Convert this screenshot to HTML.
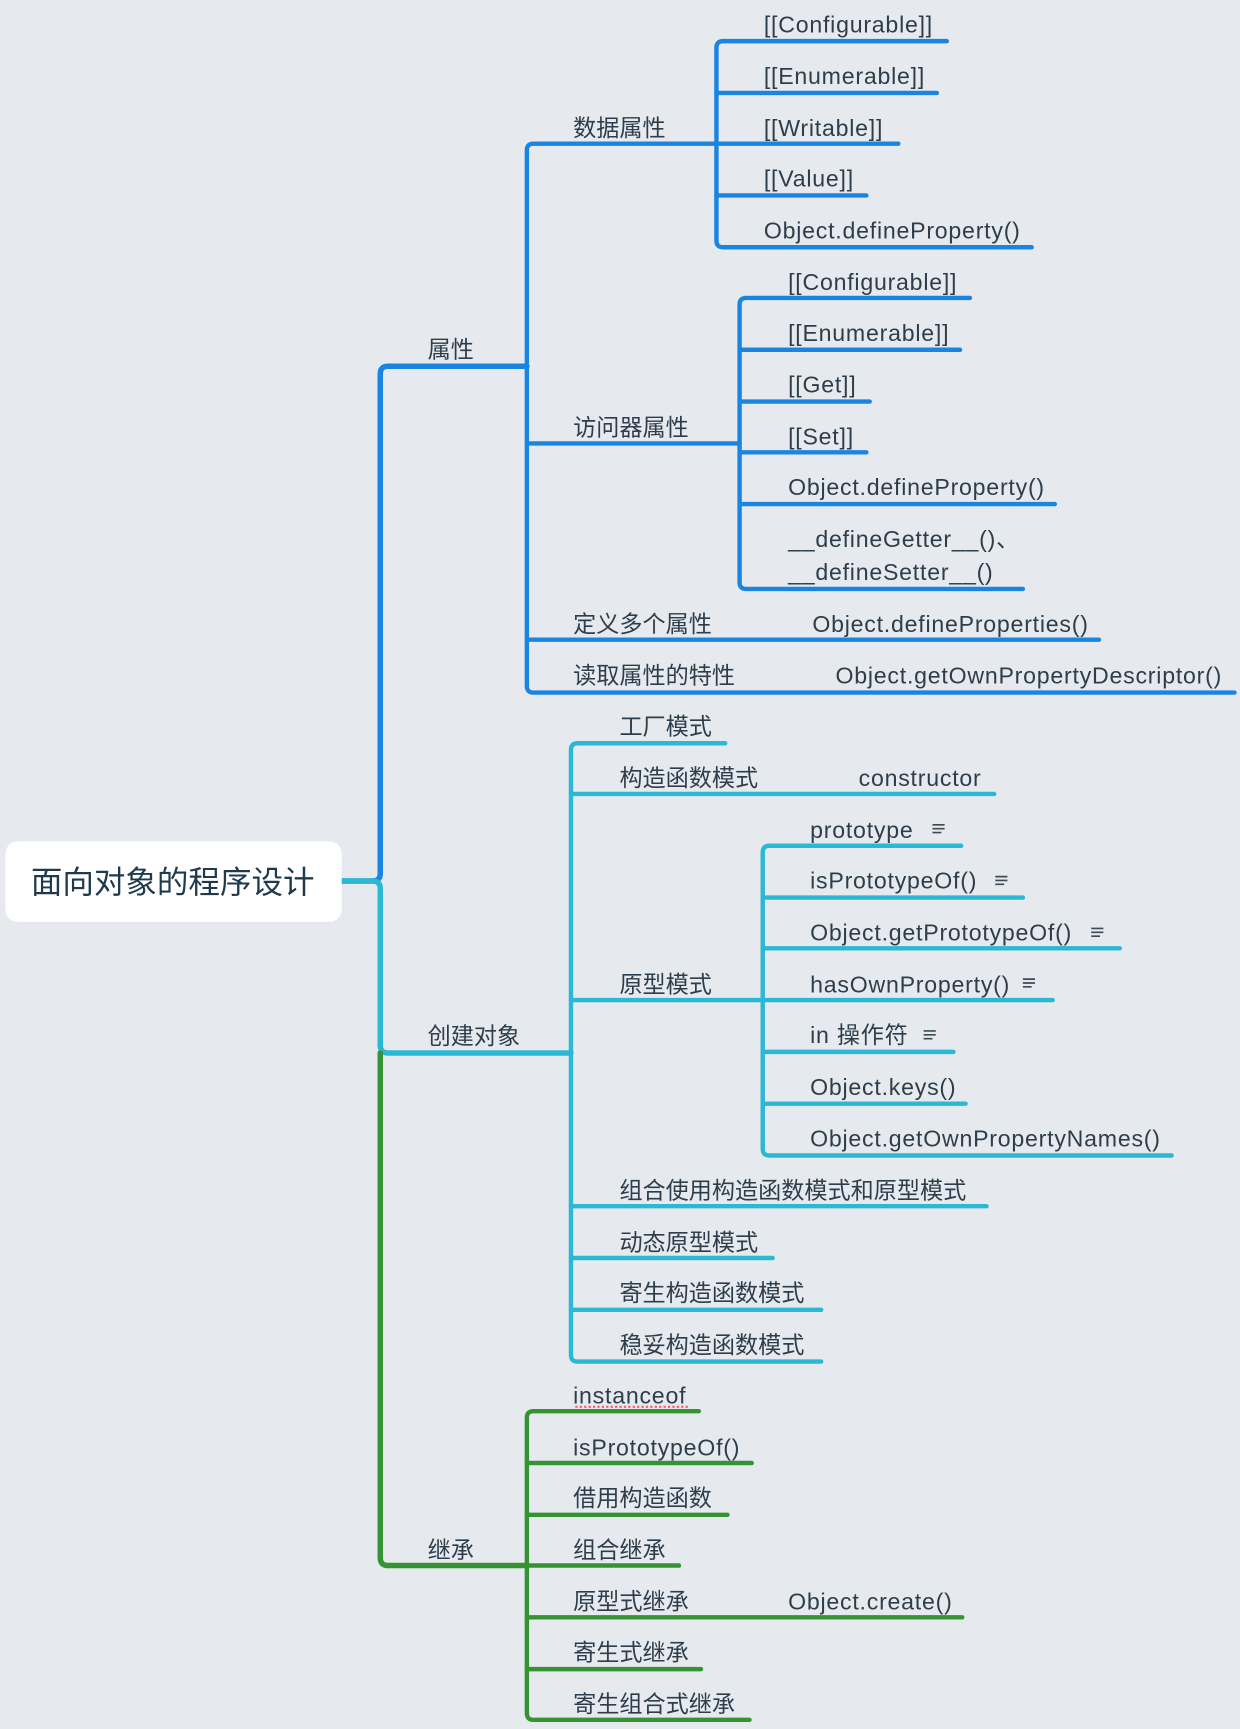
<!DOCTYPE html>
<html><head><meta charset="utf-8">
<style>
html,body{margin:0;padding:0;background:#e6eaee;}
svg{display:block}
text{font-family:"Liberation Sans","Noto Sans CJK SC",sans-serif;fill:#2e3d4b;font-size:21px}
.lat{letter-spacing:0.7px}
</style></head>
<body>
<svg width="1240" height="1729" viewBox="0 0 1125 1568" xmlns="http://www.w3.org/2000/svg">
<rect width="1125" height="1568" fill="#e6eaee"/>
<g fill="none" stroke-linecap="round" stroke-linejoin="round">
<path d="M310 799 H338 Q345 799 345 792 V339 Q345 332 352 332 H478" stroke="#1a85e0" stroke-width="5"/>
<path d="M310 799 H338 Q345 799 345 806 V948 Q345 955 352 955 H518" stroke="#2ab8d4" stroke-width="5"/>
<path d="M345 955 V1413 Q345 1420 352 1420 H478" stroke="#359334" stroke-width="5"/>

<g stroke="#1a85e0" stroke-width="4">
<path d="M650 130 H484 Q478 130 478 136 V622 Q478 628 484 628 H1120"/>
<path d="M478 402 H671"/>
<path d="M478 580 H997"/>
<path d="M859 37 H656 Q650 37 650 43 V218 Q650 224 656 224 H936"/>
<path d="M650 84 H850"/><path d="M650 130 H815"/><path d="M650 177 H786"/>
<path d="M880 270 H677 Q671 270 671 276 V528 Q671 534 677 534 H928"/>
<path d="M671 317 H871"/><path d="M671 364 H789"/><path d="M671 410 H786"/><path d="M671 457 H957"/>
</g>

<g stroke="#2ab8d4" stroke-width="4">
<path d="M658 674 H524 Q518 674 518 680 V1229 Q518 1235 524 1235 H745"/>
<path d="M518 720 H902"/>
<path d="M518 907 H692"/>
<path d="M518 1094 H895"/>
<path d="M518 1141 H701"/>
<path d="M518 1188 H745"/>
<path d="M872 767 H698 Q692 767 692 773 V1042 Q692 1048 698 1048 H1063"/>
<path d="M692 814 H928"/><path d="M692 860 H1016"/><path d="M692 907 H955"/><path d="M692 954 H865"/><path d="M692 1001 H876"/>
</g>

<g stroke="#359334" stroke-width="4">
<path d="M634 1280 H484 Q478 1280 478 1286 V1554 Q478 1560 484 1560 H680"/>
<path d="M478 1327 H682"/><path d="M478 1374 H660"/><path d="M478 1420 H616"/>
<path d="M478 1467 H873"/><path d="M478 1514 H636"/>
</g>
<path d="M522 1276 H624" stroke="#ff5a5a" stroke-width="2" stroke-dasharray="2 2" stroke-linecap="butt"/>
</g>

<rect x="5" y="763" width="305" height="73" rx="11" fill="#ffffff"/>
<text x="28" y="810" style="font-size:28.6px;fill:#1f3a4d">面向对象的程序设计</text>

<text x="388" y="324">属性</text>
<text x="388" y="947">创建对象</text>
<text x="388" y="1413">继承</text>

<text x="520" y="123">数据属性</text>
<text x="520" y="395">访问器属性</text>
<text x="520" y="573">定义多个属性</text>
<text x="520" y="620">读取属性的特性</text>
<text class="lat" x="693" y="29">[[Configurable]]</text>
<text class="lat" x="693" y="76">[[Enumerable]]</text>
<text class="lat" x="693" y="123">[[Writable]]</text>
<text class="lat" x="693" y="169">[[Value]]</text>
<text class="lat" x="693" y="216">Object.defineProperty()</text>
<text class="lat" x="715" y="263">[[Configurable]]</text>
<text class="lat" x="715" y="309">[[Enumerable]]</text>
<text class="lat" x="715" y="356">[[Get]]</text>
<text class="lat" x="715" y="403">[[Set]]</text>
<text class="lat" x="715" y="449">Object.defineProperty()</text>
<text class="lat" x="715" y="496">__defineGetter__()、</text>
<text class="lat" x="715" y="526">__defineSetter__()</text>
<text class="lat" x="737" y="573">Object.defineProperties()</text>
<text class="lat" x="758" y="620">Object.getOwnPropertyDescriptor()</text>

<text x="562" y="666">工厂模式</text>
<text x="562" y="713">构造函数模式</text>
<text class="lat" x="779" y="713">constructor</text>
<text x="562" y="900">原型模式</text>
<text x="562" y="1087">组合使用构造函数模式和原型模式</text>
<text x="562" y="1134">动态原型模式</text>
<text x="562" y="1180">寄生构造函数模式</text>
<text x="562" y="1227">稳妥构造函数模式</text>
<text class="lat" x="735" y="760">prototype</text>
<text class="lat" x="735" y="806">isPrototypeOf()</text>
<text class="lat" x="735" y="853">Object.getPrototypeOf()</text>
<text class="lat" x="735" y="900">hasOwnProperty()</text>
<text class="lat" x="735" y="946">in 操作符</text>
<text class="lat" x="735" y="993">Object.keys()</text>
<text class="lat" x="735" y="1040">Object.getOwnPropertyNames()</text>
<g stroke="#3d4b57" stroke-width="1.5">
<path d="M846 748 H857 M846 751.5 H857 M846 755 H854"/>
<path d="M903 795 H914 M903 798.5 H914 M903 802 H911"/>
<path d="M990 842 H1001 M990 845.5 H1001 M990 849 H998"/>
<path d="M928 888 H939 M928 891.5 H939 M928 895 H936"/>
<path d="M838 935 H849 M838 938.5 H849 M838 942 H846"/>
</g>

<text class="lat" x="520" y="1273">instanceof</text>
<text class="lat" x="520" y="1320">isPrototypeOf()</text>
<text x="520" y="1366">借用构造函数</text>
<text x="520" y="1413">组合继承</text>
<text x="520" y="1460">原型式继承</text>
<text class="lat" x="715" y="1460">Object.create()</text>
<text x="520" y="1506">寄生式继承</text>
<text x="520" y="1553">寄生组合式继承</text>
</svg>
</body></html>
